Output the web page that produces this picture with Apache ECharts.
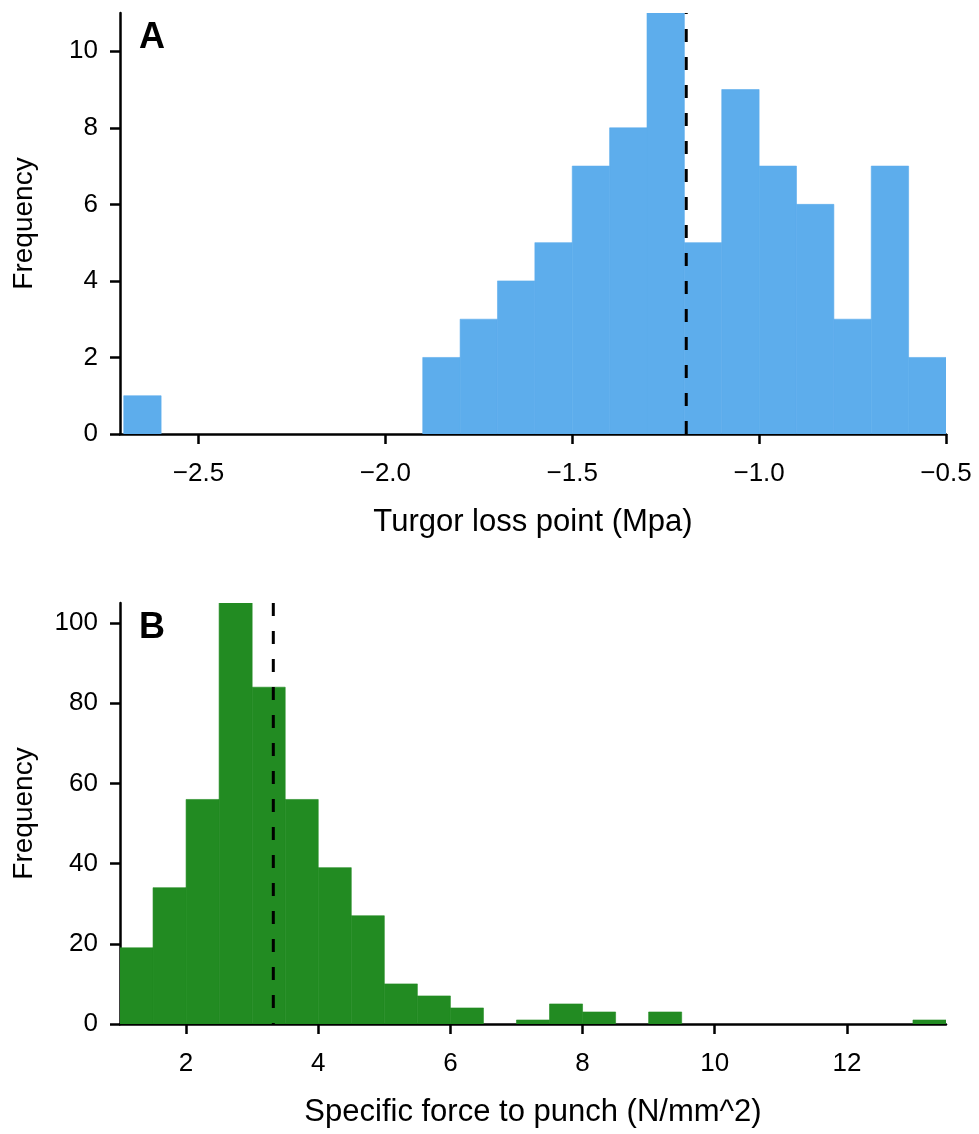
<!DOCTYPE html>
<html>
<head>
<meta charset="utf-8">
<script src="https://cdn.jsdelivr.net/npm/echarts@6/dist/echarts.min.js"></script>
<style>
html,body{margin:0;padding:0;background:#fff;}
#chart{width:979px;height:1134px;}
</style>
</head>
<body>
<div id="chart"></div>
<script>
// Panel A: Turgor loss point histogram (bin width 0.1)
const binStartA = [-2.7,-2.6,-2.5,-2.4,-2.3,-2.2,-2.1,-2.0,-1.9,-1.8,-1.7,-1.6,-1.5,-1.4,-1.3,-1.2,-1.1,-1.0,-0.9,-0.8,-0.7,-0.6];
const countsA   = [1,0,0,0,0,0,0,0,2,3,4,5,7,8,11,5,9,7,6,3,7,2];
const binWidthA = 0.1;
const meanA = -1.195;
const xTicksA = [-2.5,-2.0,-1.5,-1.0,-0.5];
const yTicksA = [0,2,4,6,8,10];

// Panel B: Specific force to punch histogram (bin width 0.5)
const binStartB = [1,1.5,2,2.5,3,3.5,4,4.5,5,5.5,6,6.5,7,7.5,8,8.5,9,9.5,10,10.5,11,11.5,12,12.5,13];
const countsB   = [19,34,56,110,84,56,39,27,10,7,4,0,1,5,3,0,3,0,0,0,0,0,0,0,1];
const binWidthB = 0.5;
const meanB = 3.32;
const xTicksB = [2,4,6,8,10,12];
const yTicksB = [0,20,40,60,80,100];

const FONT = '"Liberation Sans", Arial, Helvetica, sans-serif';

function histData(starts, counts, w) {
  return starts.map((s, i) => [s, s + w, counts[i]]);
}
function renderHist(params, api) {
  const x0 = api.value(0), x1 = api.value(1), c = api.value(2);
  if (!c) return null;
  const p0 = api.coord([x0, c]);
  const p1 = api.coord([x1, 0]);
  const col = api.visual('color');
  return {
    type: 'rect',
    shape: { x: p0[0], y: p0[1], width: p1[0] - p0[0], height: p1[1] - p0[1] },
    style: { fill: col, stroke: col, lineWidth: 0.6 }
  };
}
const fmtMinus = v => (v < 0 ? '\u2212' : '') + Math.abs(v).toFixed(1);

const axisLineStyle = { color: '#000', width: 2.5 };
function xAxisCfg(idx, min, max, ticks, name, fmt) {
  return {
    type: 'value', gridIndex: idx, min: min, max: max,
    name: name, nameLocation: 'middle', nameGap: 73,
    nameTextStyle: { fontFamily: FONT, fontSize: 31, color: '#000' },
    axisLine: { show: true, onZero: false, lineStyle: axisLineStyle },
    axisTick: { show: true, length: 10, inside: false, customValues: ticks, lineStyle: axisLineStyle },
    axisLabel: { customValues: ticks, margin: 27, fontFamily: FONT, fontSize: 26, color: '#000', formatter: fmt },
    splitLine: { show: false }
  };
}
function yAxisCfg(idx, max, ticks) {
  return {
    type: 'value', gridIndex: idx, min: 0, max: max,
    name: 'Frequency', nameLocation: 'middle', nameGap: 82,
    nameTextStyle: { fontFamily: FONT, fontSize: 28, color: '#000' },
    axisLine: { show: true, lineStyle: axisLineStyle },
    axisTick: { show: true, length: 10, inside: false, customValues: ticks, lineStyle: axisLineStyle },
    axisLabel: { customValues: ticks, margin: 22, fontFamily: FONT, fontSize: 26, color: '#000' },
    splitLine: { show: false }
  };
}

const chart = echarts.init(document.getElementById('chart'), null, { renderer: 'canvas' });
chart.setOption({
  animation: false,
  backgroundColor: '#fff',
  title: [
    { text: 'A', left: 134, top: 15, textStyle: { fontFamily: FONT, fontSize: 36, fontWeight: 'bold', color: '#000' } },
    { text: 'B', left: 134, top: 605, textStyle: { fontFamily: FONT, fontSize: 36, fontWeight: 'bold', color: '#000' } }
  ],
  grid: [
    { left: 120, right: 33, top: 13, height: 421 },
    { left: 120, right: 33, top: 603, height: 421 }
  ],
  xAxis: [
    xAxisCfg(0, -2.71, -0.5, xTicksA, 'Turgor loss point (Mpa)', fmtMinus),
    xAxisCfg(1, 1, 13.5, xTicksB, 'Specific force to punch (N/mm^2)', v => String(v))
  ],
  yAxis: [
    yAxisCfg(0, 11, yTicksA),
    yAxisCfg(1, 105, yTicksB)
  ],
  series: [
    {
      type: 'custom', xAxisIndex: 0, yAxisIndex: 0, clip: true,
      itemStyle: { color: '#5DADEC' },
      renderItem: renderHist,
      encode: { x: [0, 1], y: 2 },
      data: histData(binStartA, countsA, binWidthA)
    },
    {
      type: 'line', xAxisIndex: 0, yAxisIndex: 0, symbol: 'none', z: 5,
      lineStyle: { color: '#000', width: 3, type: [13, 15] },
      data: [[meanA, 0], [meanA, 11]]
    },
    {
      type: 'custom', xAxisIndex: 1, yAxisIndex: 1, clip: true,
      itemStyle: { color: '#228B22' },
      renderItem: renderHist,
      encode: { x: [0, 1], y: 2 },
      data: histData(binStartB, countsB, binWidthB)
    },
    {
      type: 'line', xAxisIndex: 1, yAxisIndex: 1, symbol: 'none', z: 5,
      lineStyle: { color: '#000', width: 3, type: [13, 15] },
      data: [[meanB, 105], [meanB, 0]]
    }
  ]
});
</script>
</body>
</html>
